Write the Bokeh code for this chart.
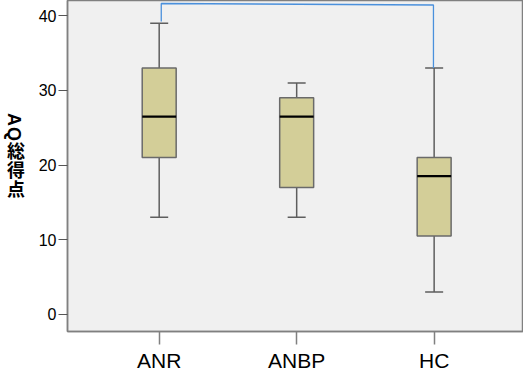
from bokeh.plotting import figure
from bokeh.models import FixedTicker, Range1d, Div
from bokeh.layouts import row
from bokeh.embed import file_html
from bokeh.resources import INLINE

# ---- data ----
groups = ["ANR", "ANBP", "HC"]
whisker_low = [13, 13, 3]
q1 = [21, 17, 10.5]
median = [26.5, 26.5, 18.5]
q3 = [33, 29, 21]
whisker_high = [39, 31, 33]
y_ticks = [0, 10, 20, 30, 40]
y_label = "AQ総得点"
bracket_pair = ["ANR", "HC"]
bracket_top = [41.65, 41.45]

xs = [i + 1 for i in range(len(groups))]

TOTAL_W, H = 523, 374
LEFT_W = 28

# ---- vertical-writing axis title (Latin rotated, CJK upright) ----
title_html = (
    '<div style="writing-mode:vertical-rl; text-orientation:mixed; '
    'font-family:\'Liberation Sans\',\'Noto Sans CJK JP\',sans-serif; font-weight:bold; '
    'font-size:18px; line-height:28px; letter-spacing:1px; color:black; '
    'padding-top:113px; margin:0; width:28px; height:%dpx; box-sizing:border-box;">%s</div>'
    % (H, y_label)
)
t = Div(text=title_html, width=LEFT_W, height=H, margin=0)

# ---- main box plot ----
p = figure(width=TOTAL_W - LEFT_W, height=H, output_backend="svg", toolbar_location=None,
           x_range=Range1d(0.333, 3.65), y_range=Range1d(-2.31, 42.05),
           min_border_left=67 - LEFT_W, min_border_right=0, min_border_top=0, min_border_bottom=42)
p.background_fill_color = "#f0f0f0"
p.border_fill_color = "white"
p.outline_line_color = "#808080"
p.outline_line_width = 1.5
p.grid.visible = False

box_w = 0.247
cap_w = 0.131
line_col = "#5e5e5e"

# whiskers
p.segment(x0=xs, y0=q3, x1=xs, y1=whisker_high, line_color=line_col, line_width=1.5)
p.segment(x0=xs, y0=whisker_low, x1=xs, y1=q1, line_color=line_col, line_width=1.5)
p.segment(x0=[x - cap_w / 2 for x in xs], y0=whisker_high, x1=[x + cap_w / 2 for x in xs], y1=whisker_high,
          line_color=line_col, line_width=1.5)
p.segment(x0=[x - cap_w / 2 for x in xs], y0=whisker_low, x1=[x + cap_w / 2 for x in xs], y1=whisker_low,
          line_color=line_col, line_width=1.5)
# boxes
p.vbar(x=xs, width=box_w, bottom=q1, top=q3, fill_color="#d3ce98", line_color="#6a6a6a", line_width=1.5)
# medians
p.segment(x0=[x - box_w / 2 for x in xs], y0=median, x1=[x + box_w / 2 for x in xs], y1=median,
          line_color="black", line_width=2.2)

# significance bracket
ia = groups.index(bracket_pair[0])
ib = groups.index(bracket_pair[1])
xa = xs[ia] + 0.015
xb = xs[ib] - 0.005
p.line(x=[xa, xa, xb, xb],
       y=[whisker_high[ia] + 0.25, bracket_top[0], bracket_top[1], whisker_high[ib]],
       line_color="#4a90dc", line_width=1.3)

# axes
p.xaxis.ticker = FixedTicker(ticks=xs)
p.xaxis.major_label_overrides = {x: g for x, g in zip(xs, groups)}
p.xaxis.major_label_text_font = "Liberation Sans"
p.xaxis.major_label_text_font_size = "21px"
p.xaxis.major_label_text_color = "black"
p.xaxis.major_label_standoff = 4
p.xaxis.major_tick_out = 13
p.xaxis.major_tick_in = 0
p.xaxis.minor_tick_line_color = None
p.xaxis.axis_line_color = "#808080"
p.xaxis.axis_line_width = 1.5
p.xaxis.major_tick_line_color = "#808080"
p.xaxis.major_tick_line_width = 1.5

p.yaxis.ticker = FixedTicker(ticks=y_ticks)
p.yaxis.major_label_text_font = "Liberation Sans"
p.yaxis.major_label_text_font_size = "16px"
p.yaxis.major_label_text_color = "black"
p.yaxis.major_label_standoff = 2
p.yaxis.major_tick_out = 9
p.yaxis.major_tick_in = 0
p.yaxis.minor_tick_line_color = None
p.yaxis.axis_line_color = "#808080"
p.yaxis.axis_line_width = 1.5
p.yaxis.major_tick_line_color = "#555555"
p.yaxis.major_tick_line_width = 1.2

layout = row(t, p, spacing=0)
open("out.html", "w").write(file_html(layout, INLINE))
